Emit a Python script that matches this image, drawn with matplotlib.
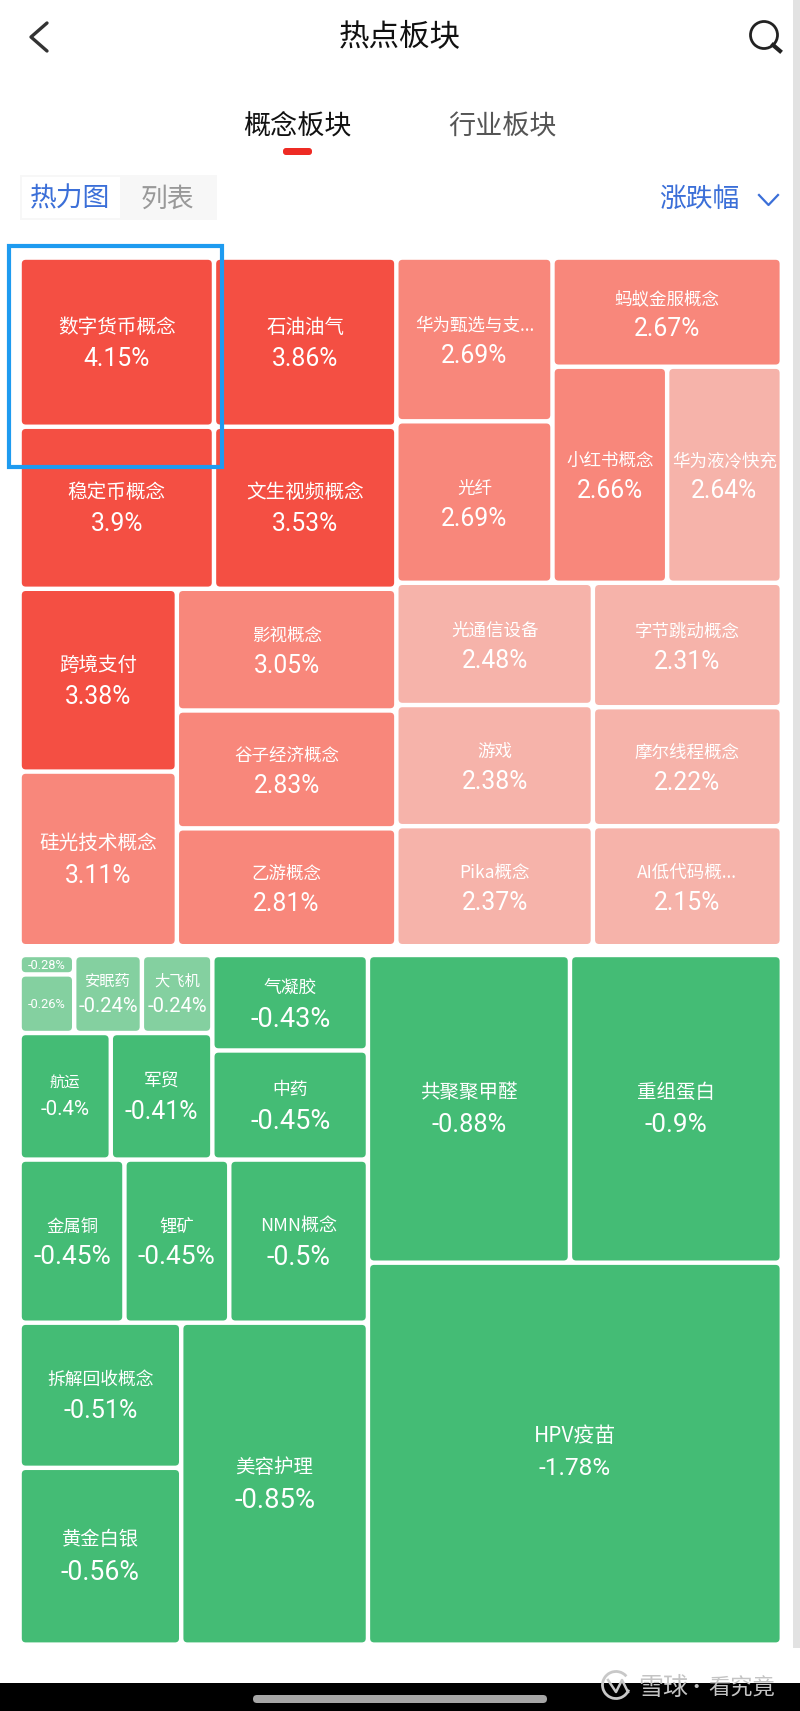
import matplotlib
matplotlib.use("Agg")
import matplotlib.pyplot as plt
from matplotlib.patches import FancyBboxPatch, Rectangle, Circle, Arc

plt.rcParams['font.family'] = ['Noto Sans CJK SC', 'DejaVu Sans']
NUM_FONT = ['Roboto', 'Noto Sans CJK SC']

# red block (gainers)
up_names = ["数字货币概念", "石油油气", "稳定币概念", "文生视频概念", "跨境支付", "硅光技术概念", "影视概念",
            "谷子经济概念", "乙游概念", "华为甄选与支...", "光纤", "蚂蚁金服概念", "小红书概念", "华为液冷快充",
            "光通信设备", "字节跳动概念", "游戏", "摩尔线程概念", "Pika概念", "AI低代码概..."]
up_pct = [4.15, 3.86, 3.9, 3.53, 3.38, 3.11, 3.05, 2.83, 2.81, 2.69, 2.69, 2.67, 2.66, 2.64,
          2.48, 2.31, 2.38, 2.22, 2.37, 2.15]
# cell areas
up_area = [27590, 25885, 26433, 24800, 24120, 23040, 22412, 21708, 21708, 21450, 21164, 21000,
           20790, 20790, 20160, 19722, 19980, 18857, 19800, 19030]

# green block (losers), the two smallest cells show no name
down_names = ["", "", "安眠药", "大飞机", "航运", "军贸", "气凝胶", "中药", "金属铜", "锂矿", "NMN概念",
              "拆解回收概念", "黄金白银", "美容护理", "共聚聚甲醛", "重组蛋白", "HPV疫苗"]
down_pct = [-0.28, -0.26, -0.24, -0.24, -0.4, -0.41, -0.43, -0.45, -0.45, -0.45, -0.5,
            -0.51, -0.56, -0.85, -0.88, -0.9, -1.78]
down_area = [890, 2685, 4433, 4612, 9686, 10788, 12469, 14250, 14352, 14352, 18987,
             19684, 23976, 50445, 52170, 54708, 132650]

# how the treemap nests: "h" splits left to right, "v" splits top to bottom
up_tree = ("h", [("v", [("h", [("v", [0, 2]), ("v", [1, 3])]),
                        ("h", [("v", [4, 5]), ("v", [6, 7, 8])])]),
                 ("v", [("h", [("v", [9, 10]), ("v", [11, ("h", [12, 13])])]),
                        ("h", [("v", [14, 16, 18]), ("v", [15, 17, 19])])])])
down_tree = ("h", [("v", [("h", [("v", [("h", [("v", [0, 1]), 2, 3]), ("h", [4, 5])]), ("v", [6, 7])]),
                          ("h", [8, 9, 10]),
                          ("h", [("v", [11, 12]), 13])]),
                   ("v", [("h", [14, 15]), 16])])


def node_area(node, area):
    if isinstance(node, int):
        return area[node]
    return sum(node_area(c, area) for c in node[1])


def layout(node, area, x0, y0, x1, y1, out):
    if isinstance(node, int):
        out[node] = (x0, y0, x1, y1)
        return
    total = node_area(node, area)
    pos = x0 if node[0] == "h" else y0
    for child in node[1]:
        frac = node_area(child, area) / total
        if node[0] == "h":
            step = (x1 - x0) * frac
            layout(child, area, pos, y0, pos + step, y1, out)
        else:
            step = (y1 - y0) * frac
            layout(child, area, x0, pos, x1, pos + step, out)
        pos += step


def cell_color(v):
    if v >= 3.3:
        return "#F44F43"
    if v >= 2.65:
        return "#F8877B"
    if v > 0:
        return "#F6B3AA"
    if v <= -0.4:
        return "#44BC75"
    return "#84D0A0"


def draw_cells(ax, names, pct, boxes, name_size, pct_size, default_pct, shift):
    for i, (x0, y0, x1, y1) in boxes.items():
        ax.add_patch(FancyBboxPatch((x0 + 2.2, y0 + 2.2), x1 - x0 - 4.4, y1 - y0 - 4.4,
                                    boxstyle="round,pad=0,rounding_size=4", fc=cell_color(pct[i]), ec="none"))
        cx = (x0 + x1) / 2
        cy = (y0 + y1) / 2 + shift
        ns = name_size.get(i, 12.6)
        ps = pct_size.get(i, default_pct)
        if names[i]:
            ax.text(cx, cy - ns * 1.25, names[i], color="white", fontsize=ns, ha="center", va="center")
            ax.text(cx, cy + ps * 0.8, f"{pct[i]:g}%", color="white", fontsize=ps, ha="center", va="center",
                    family=NUM_FONT)
        else:
            ax.text(cx, cy, f"{pct[i]:g}%", color="white", fontsize=ps, ha="center", va="center", family=NUM_FONT)


fig = plt.figure(figsize=(8, 17.11), dpi=100)
ax = fig.add_axes([0, 0, 1, 1])
ax.set_xlim(0, 800)
ax.set_ylim(1711, 0)
ax.axis("off")

# header
ax.plot([47, 31, 47], [23, 37, 51], color="#333333", lw=2.4, solid_capstyle="round")
ax.text(400, 38, "热点板块", fontsize=22, color="#111111", ha="center", va="center")
ax.add_patch(Circle((764, 35), 13.5, fc="none", ec="#222222", lw=2))
ax.plot([773, 780], [45, 51], color="#222222", lw=3)
ax.text(297.5, 127, "概念板块", fontsize=19.5, color="#111111", ha="center", va="center")
ax.text(502.5, 127, "行业板块", fontsize=19.5, color="#555555", ha="center", va="center")
ax.add_patch(FancyBboxPatch((283, 148), 29, 7, boxstyle="round,pad=0,rounding_size=3", fc="#EE2B24", ec="none"))

# toggle
ax.add_patch(Rectangle((20, 175), 197, 45, fc="#F7F7F7", ec="none"))
ax.add_patch(Rectangle((22, 177), 98, 41, fc="white", ec="none"))
ax.text(70, 199, "热力图", fontsize=19.3, color="#3B6FD8", ha="center", va="center")
ax.text(167, 199, "列表", fontsize=19.3, color="#999999", ha="center", va="center")
ax.text(699, 199, "涨跌幅", fontsize=19.3, color="#3B6FD8", ha="center", va="center")
ax.plot([759, 768.5, 778], [195, 205, 195], color="#3B6FD8", lw=1.6)

# treemaps
up_boxes = {}
layout(up_tree, up_area, 19.6, 257.6, 781.8, 946.2, up_boxes)
down_boxes = {}
layout(down_tree, down_area, 19.6, 955, 781.8, 1644.6, down_boxes)

up_name_size = {0: 14.1, 1: 14, 2: 14.1, 3: 14.1, 4: 14, 5: 14.1}
draw_cells(ax, up_names, up_pct, up_boxes, up_name_size, {}, 17.8, 2.4)
down_name_size = {2: 11, 3: 11, 4: 11, 5: 12.8, 6: 12.8, 7: 12.8, 8: 12.5, 9: 12.5, 10: 13, 11: 12.8, 12: 13.9,
                  13: 14, 14: 14, 15: 14, 16: 15}
down_pct_size = {0: 9.2, 1: 9.2, 2: 14.6, 3: 14.6, 4: 14.8, 5: 17.9, 6: 19.5, 7: 19.5, 8: 18.9, 9: 18.9, 10: 19.3,
                 11: 18.1, 12: 19.2, 13: 19.8, 14: 18.4, 15: 18.8, 16: 17.6}
draw_cells(ax, down_names, down_pct, down_boxes, down_name_size, down_pct_size, 18, 1)

# highlight frame
ax.add_patch(Rectangle((8.5, 245.5), 213.5, 221, fc="none", ec="#1E9BF0", lw=3))

# scrollbar and nav bar
ax.add_patch(Rectangle((792.5, 0), 7.5, 1648, fc="#E2E2E2", ec="none"))
ax.add_patch(Rectangle((0, 1683), 800, 28, fc="black", ec="none"))
ax.add_patch(FancyBboxPatch((253, 1695), 294, 8, boxstyle="round,pad=0,rounding_size=4", fc="#A6A6A6", ec="none"))

# watermark
ax.add_patch(Arc((616, 1685), 27, 27, theta1=20, theta2=320, color="#C8C8C8", lw=2))
ax.plot([608, 616, 622, 628], [1680, 1692, 1680, 1692], color="#C8C8C8", lw=1.8)
ax.text(663, 1688, "雪球", fontsize=18, color="#C4C4C4", ha="center", va="center")
ax.text(696, 1688, "·", fontsize=14, color="#C4C4C4", ha="center", va="center")
ax.text(742, 1688, "看究竟", fontsize=16, color="#C4C4C4", ha="center", va="center")

fig.savefig("out.png", dpi=100)
